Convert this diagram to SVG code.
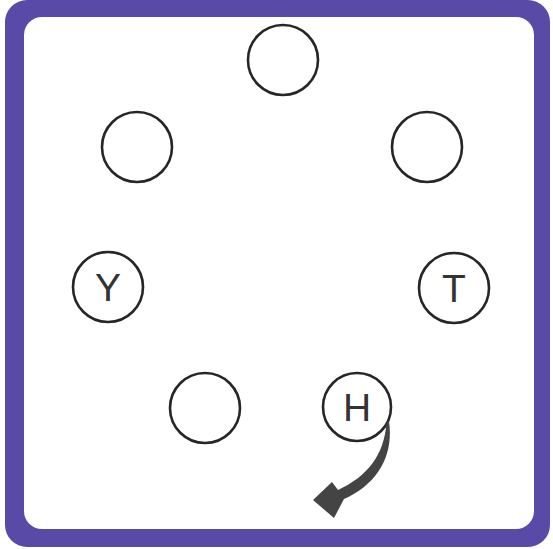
<svg xmlns="http://www.w3.org/2000/svg" width="553" height="549" viewBox="0 0 553 549">
<style>
.c{fill:#fff;stroke:#262626;stroke-width:2.6}
.t{font-family:"Liberation Sans",Arial,sans-serif;font-size:39px;fill:#333;text-anchor:middle}
</style>
<rect x="0" y="0" width="553" height="549" fill="#fff"/>
<rect x="5" y="0" width="545" height="547" rx="22" fill="#5a4aa7"/>
<rect x="24" y="17" width="510" height="512" rx="18" fill="#fff"/>
<g id="n1"><circle class="c" cx="283" cy="60" r="35"/></g>
<g id="n2"><circle class="c" cx="137" cy="147" r="35"/></g>
<g id="n3"><circle class="c" cx="427" cy="147" r="35"/></g>
<g id="nY"><circle class="c" cx="108" cy="287" r="35"/><text class="t" x="108" y="301">Y</text></g>
<g id="nT"><circle class="c" cx="454" cy="288" r="35"/><text class="t" x="454" y="302">T</text></g>
<g id="n6"><circle class="c" cx="205" cy="408" r="35"/></g>
<g id="nH"><circle class="c" cx="357" cy="407" r="34"/><text class="t" x="357" y="421">H</text></g>
<g id="connectors">
<path d="M389 421 C394 455 378 484 344 499 L334 518 L313 500 L332 482 L338 490 C368 476 384 455 386.5 423 Z" fill="#444"/>
</g>
</svg>
